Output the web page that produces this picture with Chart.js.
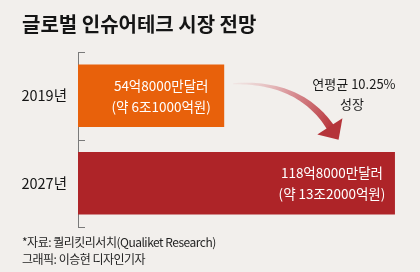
<!DOCTYPE html>
<html>
<head>
<meta charset="utf-8">
<script src="https://cdn.jsdelivr.net/npm/chart.js@4"></script>
<style>
  html, body { margin: 0; padding: 0; background: #f2efec; }
  #wrap { position: relative; width: 420px; height: 272px; overflow: hidden; font-family: "Noto Sans CJK KR", sans-serif; }
  #chart { position: absolute; left: 0; top: 0; }
  .title { position: absolute; left: 22px; top: 9px; font-size: 20px; font-weight: 700; color: #151515; letter-spacing: 0px; }
  .note { position: absolute; left: 22px; font-size: 12px; color: #1f1f1f; letter-spacing: -0.5px; }
</style>
</head>
<body>
<div id="wrap">
  <canvas id="chart" width="420" height="272"></canvas>
  <div class="title">글로벌 인슈어테크 시장 전망</div>
  <div class="note" style="top:233px">*자료: 퀄리킷리서치(Qualiket Research)</div>
  <div class="note" style="top:250px">그래픽: 이승현 디자인기자</div>
</div>
<script>
// data
const years = ['2019년', '2027년'];
const marketSize = [54.8, 118.8]; // 억 달러
const usdLabels = ['54억8000만달러', '118억8000만달러'];
const krwLabels = ['(약 6조1000억원)', '(약 13조2000억원)'];
const growthText = ['연평균 10.25%', '성장'];
const barColors = ['#e8610b', '#ae2428'];

// white value labels inside the bars
const barText = {
    id: 'barText',
    afterDatasetsDraw(chart) {
        const ctx = chart.ctx;
        const bars = chart.getDatasetMeta(0).data;
        ctx.save();
        ctx.fillStyle = '#fff';
        ctx.font = '13.5px "Noto Sans CJK KR"';
        ctx.textAlign = 'center';
        ctx.textBaseline = 'middle';
        bars.forEach((b, i) => {
            const cx = b.x - 63;
            ctx.fillText(usdLabels[i], cx, b.y - 10);
            ctx.fillText(krwLabels[i], cx, b.y + 11);
        });
        ctx.restore();
    }
};

// small ticks on the category axis + growth arrow
const extras = {
    id: 'extras',
    afterDraw(chart) {
        const ctx = chart.ctx;
        const area = chart.chartArea;
        ctx.save();
        ctx.strokeStyle = '#7a7a7a';
        ctx.lineWidth = 1;
        const step = (area.bottom - area.top) / years.length;
        for (let i = 0; i <= years.length; i++) {
            const ty = Math.round(area.top + step * i) + 0.5;
            ctx.beginPath();
            ctx.moveTo(area.left, ty);
            ctx.lineTo(area.left + 7, ty);
            ctx.stroke();
        }

        const bars = chart.getDatasetMeta(0).data;
        const b1 = bars[0], b2 = bars[1];
        const p0 = { x: b1.x + 9, y: b1.y - 12 };
        const c = { x: p0.x + 67, y: p0.y - 3 };
        const p1 = { x: b2.x - 64, y: b2.y - b2.height / 2 - 24 };
        const pts = [], n = 40;
        for (let k = 0; k <= n; k++) {
            const t = k / n;
            const x = (1 - t) * (1 - t) * p0.x + 2 * (1 - t) * t * c.x + t * t * p1.x;
            const yy = (1 - t) * (1 - t) * p0.y + 2 * (1 - t) * t * c.y + t * t * p1.y;
            const dx = 2 * (1 - t) * (c.x - p0.x) + 2 * t * (p1.x - c.x);
            const dy = 2 * (1 - t) * (c.y - p0.y) + 2 * t * (p1.y - c.y);
            const len = Math.hypot(dx, dy);
            const w = 0.6 + 3.4 * t;
            pts.push({ x, y: yy, nx: -dy / len * w, ny: dx / len * w });
        }
        const grad = ctx.createLinearGradient(p0.x, p0.y, p1.x, p1.y);
        grad.addColorStop(0, 'rgba(235, 200, 200, 0.25)');
        grad.addColorStop(0.5, 'rgba(215, 140, 145, 0.9)');
        grad.addColorStop(1, '#b8363c');
        ctx.fillStyle = grad;
        ctx.beginPath();
        pts.forEach((p, k) => k ? ctx.lineTo(p.x + p.nx, p.y + p.ny) : ctx.moveTo(p.x + p.nx, p.y + p.ny));
        for (let k = pts.length - 1; k >= 0; k--) ctx.lineTo(pts[k].x - pts[k].nx, pts[k].y - pts[k].ny);
        ctx.closePath();
        ctx.fill();

        // arrow head
        const dx = p1.x - c.x, dy = p1.y - c.y, len = Math.hypot(dx, dy);
        const ux = dx / len, uy = dy / len;
        const tip = { x: p1.x + ux * 14, y: p1.y + uy * 14 };
        ctx.fillStyle = '#b5343a';
        ctx.beginPath();
        ctx.moveTo(tip.x, tip.y);
        ctx.lineTo(p1.x - uy * 15 - ux * 2, p1.y + ux * 15 - uy * 2);
        ctx.lineTo(p1.x + uy * 15 - ux * 2, p1.y - ux * 15 - uy * 2);
        ctx.closePath();
        ctx.fill();

        // growth text
        ctx.fillStyle = '#1a1a1a';
        ctx.font = '13px "Noto Sans CJK KR"';
        ctx.textAlign = 'center';
        ctx.textBaseline = 'middle';
        ctx.fillText(growthText[0], b2.x - 41, b1.y - 12);
        ctx.fillText(growthText[1], b2.x - 43, b1.y + 8);
        ctx.restore();
    }
};

new Chart(document.getElementById('chart'), {
    type: 'bar',
    data: {
        labels: years,
        datasets: [{
            data: marketSize,
            backgroundColor: barColors,
            borderWidth: 0,
            barPercentage: 0.714,
            categoryPercentage: 1
        }]
    },
    options: {
        indexAxis: 'y',
        responsive: false,
        animation: false,
        devicePixelRatio: 1,
        layout: { padding: { left: 0, top: 52, bottom: 45, right: 8.5 } },
        scales: {
            x: { display: false, min: 0, max: 125 },
            y: {
                grid: { display: false, drawTicks: false },
                border: { display: true, color: '#7a7a7a', width: 1 },
                ticks: {
                    color: '#151515',
                    padding: 11,
                    font: { family: '"Noto Sans CJK KR"', size: 14.5 }
                },
                afterFit(scale) { scale.width = 78; }
            }
        },
        plugins: {
            legend: { display: false },
            tooltip: { enabled: false }
        }
    },
    plugins: [barText, extras]
});
</script>
</body>
</html>
